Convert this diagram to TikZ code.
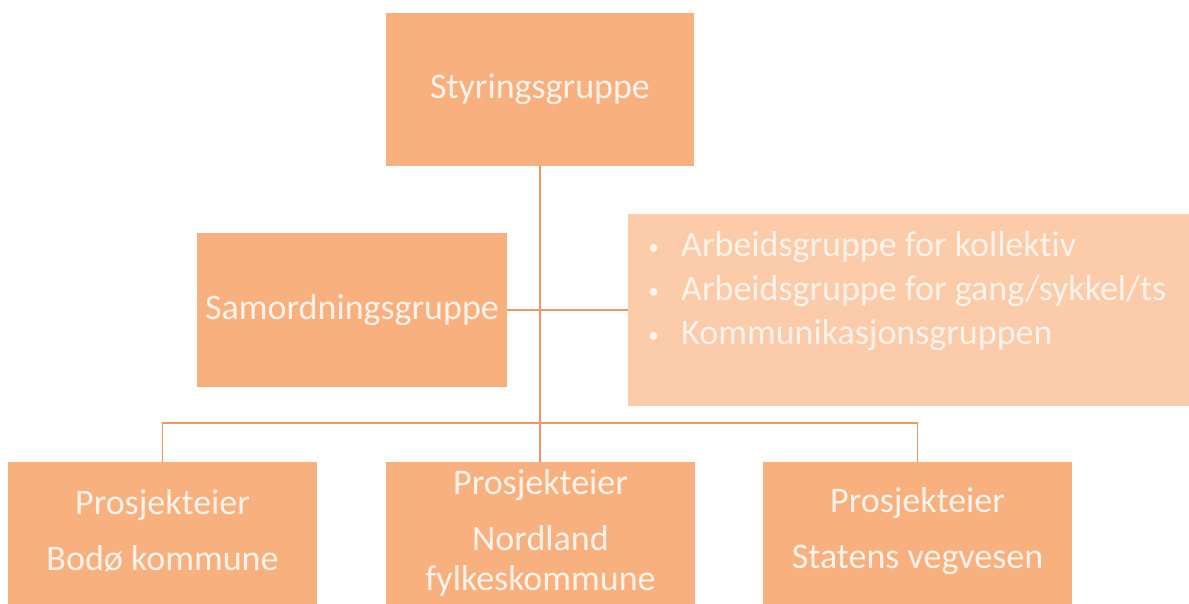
\documentclass[tikz,border=0pt]{standalone}
\usepackage{fontspec}
\setmainfont{Carlito}[Ligatures=NoCommon]
\definecolor{boxc}{HTML}{F9B07F}
\definecolor{listc}{HTML}{FBCBAA}
\definecolor{linec}{HTML}{E89A66}
\definecolor{txtc}{HTML}{FEF3EA}
\newcommand{\blt}{\makebox[38pt][l]{\hspace{5pt}\raisebox{2pt}{\fontsize{22}{22}\selectfont\textbullet}}}
\begin{document}
\begin{tikzpicture}[x=1pt,y=-1pt,
  box/.style={fill=boxc,draw=none,inner sep=0pt,minimum width=#1},
  box/.default=309pt,
  txt/.style={text=txtc,font=\fontsize{36}{40}\selectfont,align=center,inner sep=0pt},
  conn/.style={draw=linec,line width=1.4pt}]
\useasboundingbox (0,0) rectangle (1189,604);
\clip (0,0) rectangle (1189,604);
% top
\node[box=308pt,minimum height=153pt,txt] (top) at (540,89.5) {Styringsgruppe};
% samordning
\node[box=310pt,minimum height=154pt,txt] (sam) at (352,310) {Samordningsgruppe};
% list box
\node[fill=listc,inner sep=0pt,minimum width=570pt,minimum height=191pt] (list) at (913,310) {};
\node[txt,align=left,anchor=north west] (listtxt) at (643,231)
  {\blt Arbeidsgruppe for kollektiv\\[4pt]
   \blt Arbeidsgruppe for gang/sykkel/ts\\[4pt]
   \blt Kommunikasjonsgruppen};
% bottom boxes
\node[box,minimum height=160pt,anchor=north] (b1) at (162.5,462) {};
\node[box,minimum height=160pt,anchor=north] (b2) at (540.5,462) {};
\node[box,minimum height=160pt,anchor=north] (b3) at (917.5,462) {};
\node[txt] (t1) at (162.5,531) {Prosjekteier\\[16pt]Bodø kommune};
\node[txt] (t2) at (540.5,533) {Prosjekteier\\[16pt]Nordland\\fylkeskommune};
\node[txt] (t3) at (917.5,531) {Prosjekteier\\[16pt]Statens vegvesen};
% connectors
\coordinate (bus) at (540,423);
\draw[conn] (top.south) -- (top.south |- b2.north);
\draw[conn] (sam.east) -- (list.west);
\draw[conn] (b1.north) |- (bus) -| (b3.north);
\end{tikzpicture}
\end{document}
